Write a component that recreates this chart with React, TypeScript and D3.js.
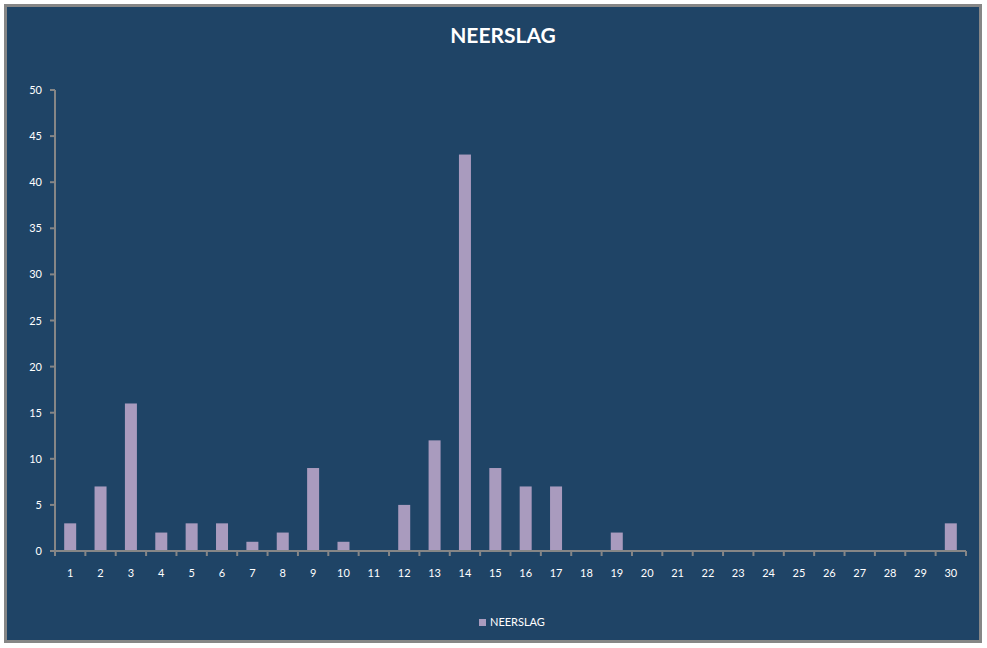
import React, { useEffect, useRef } from 'react';
import * as d3 from 'd3';

const days: string[] = Array.from({ length: 30 }, (_, i) => String(i + 1));
const neerslag: number[] = [3, 7, 16, 2, 3, 3, 1, 2, 9, 1, 0, 5, 12, 43, 9, 7, 7, 0, 2, 0, 0, 0, 0, 0, 0, 0, 0, 0, 0, 3];
const yTicks: number[] = [0, 5, 10, 15, 20, 25, 30, 35, 40, 45, 50];

const width = 987;
const height = 648;
const bg = '#1f4466';
const barColor = '#a99bbe';
const axisColor = '#868686';
const font = 'Lato, "Open Sans", sans-serif';

const App: React.FC = () => {
  const ref = useRef<SVGSVGElement>(null);

  useEffect(() => {
    const svg = d3.select(ref.current);
    svg.selectAll('*').remove();

    svg.append('rect')
      .attr('width', width)
      .attr('height', height)
      .attr('fill', '#fff');

    svg
      .append('rect')
      .attr('x', 5.5)
      .attr('y', 5.5)
      .attr('width', 975)
      .attr('height', 636)
      .attr('fill', bg)
      .attr('stroke', axisColor)
      .attr('stroke-width', 3);

    svg
      .append('text')
      .attr('x', 503)
      .attr('y', 43)
      .attr('text-anchor', 'middle')
      .style('font-family', font)
      .style('font-weight', 700)
      .style('font-size', '21px')
      .style('fill', '#fff')
      .text('NEERSLAG');

    const x = d3.scaleBand<string>().domain(days).range([55, 966]);
    const y = d3.scaleLinear().domain([0, 50]).range([551, 90]);
    const barW = 12;

    const g = svg.append('g');

    // y axis
    g.append('line')
      .attr('x1', 55).attr('x2', 55)
      .attr('y1', y(50)).attr('y2', y(0))
      .attr('stroke', axisColor).attr('stroke-width', 2);
    g.selectAll('.ytick')
      .data(yTicks)
      .enter()
      .append('line')
      .attr('x1', 50).attr('x2', 55)
      .attr('y1', (d) => y(d)).attr('y2', (d) => y(d))
      .attr('stroke', axisColor).attr('stroke-width', 2);
    g.selectAll('.ylab')
      .data(yTicks)
      .enter()
      .append('text')
      .attr('x', 42)
      .attr('y', (d) => y(d) + 4)
      .attr('text-anchor', 'end')
      .style('font-family', font)
      .style('font-size', '11px')
      .style('fill', '#fff')
      .text((d) => d);

    // bars
    g.selectAll('.bar')
      .data(neerslag)
      .enter()
      .append('rect')
      .attr('x', (_, i) => (x(days[i]) as number) + x.bandwidth() / 2 - barW / 2)
      .attr('y', (d) => y(d))
      .attr('width', barW)
      .attr('height', (d) => y(0) - y(d))
      .attr('fill', barColor);

    // x axis
    g.append('line')
      .attr('x1', 55).attr('x2', 966)
      .attr('y1', y(0)).attr('y2', y(0))
      .attr('stroke', axisColor).attr('stroke-width', 2);
    const edges = [...days.map((d) => x(d) as number), 966];
    g.selectAll('.xtick')
      .data(edges)
      .enter()
      .append('line')
      .attr('x1', (d) => d).attr('x2', (d) => d)
      .attr('y1', y(0)).attr('y2', y(0) + 5)
      .attr('stroke', axisColor).attr('stroke-width', 2);
    g.selectAll('.xlab')
      .data(days)
      .enter()
      .append('text')
      .attr('x', (d) => (x(d) as number) + x.bandwidth() / 2)
      .attr('y', 577)
      .attr('text-anchor', 'middle')
      .style('font-family', font)
      .style('font-size', '11px')
      .style('fill', '#fff')
      .text((d) => d);

    // legend
    svg.append('rect')
      .attr('x', 479).attr('y', 619)
      .attr('width', 7).attr('height', 7)
      .attr('fill', barColor);
    svg.append('text')
      .attr('x', 490)
      .attr('y', 626)
      .style('font-family', font)
      .style('font-size', '11px')
      .style('fill', '#fff')
      .text('NEERSLAG');
  }, []);

  return (
    <svg
      ref={ref}
      width={width}
      height={height}
      style={{ display: 'block', position: 'absolute', left: 0, top: 0 }}
    />
  );
};

export default App;
